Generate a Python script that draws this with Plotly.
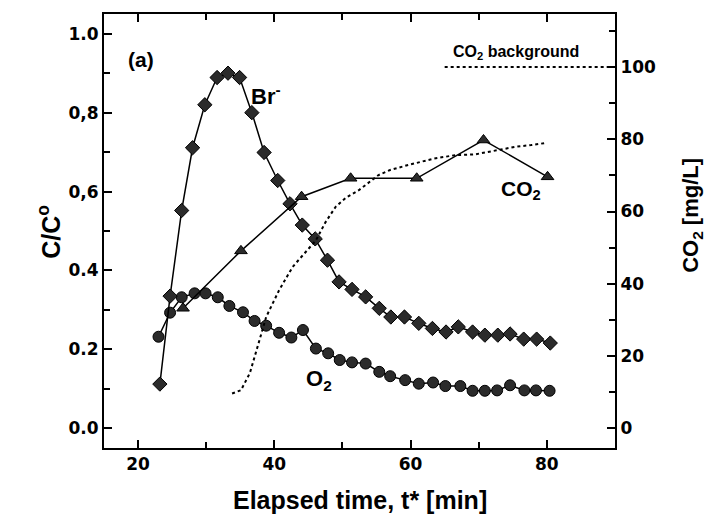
import plotly.graph_objects as go

# Bromide tracer breakthrough (C/C0)
br_t = [23.2, 24.7, 26.4, 28.0, 29.8, 31.6, 33.2, 34.9, 36.7, 38.5, 40.5, 42.3,
        44.1, 46.0, 47.8, 49.5, 51.4, 53.4, 55.4, 57.1, 59.1, 61.2, 63.2, 65.2,
        67.0, 69.1, 70.9, 72.8, 74.6, 76.6, 78.5, 80.5]
br_c = [0.112, 0.335, 0.552, 0.711, 0.820, 0.889, 0.900, 0.889, 0.800, 0.699,
        0.628, 0.569, 0.515, 0.480, 0.426, 0.371, 0.352, 0.333, 0.304, 0.282,
        0.282, 0.266, 0.253, 0.244, 0.257, 0.244, 0.236, 0.236, 0.239, 0.226,
        0.226, 0.216]

# Dissolved oxygen (C/C0)
o2_t = [23.0, 24.7, 26.4, 28.3, 29.9, 31.7, 33.4, 35.4, 37.1, 38.8, 40.7, 42.5,
        44.2, 46.1, 47.9, 49.6, 51.4, 53.4, 55.4, 57.0, 59.2, 61.2, 63.3, 65.1,
        67.3, 69.1, 70.9, 72.7, 74.6, 76.7, 78.4, 80.4]
o2_c = [0.232, 0.293, 0.332, 0.342, 0.342, 0.332, 0.310, 0.294, 0.272, 0.260,
        0.242, 0.230, 0.249, 0.202, 0.190, 0.173, 0.167, 0.164, 0.143, 0.132,
        0.122, 0.113, 0.116, 0.107, 0.107, 0.095, 0.095, 0.096, 0.109, 0.096,
        0.096, 0.095]

# CO2 samples [mg/L]
co2_t = [26.6, 35.1, 44.0, 51.2, 60.9, 70.7, 80.1]
co2_v = [33.2, 49.1, 64.1, 69.2, 69.2, 79.8, 69.6]

# Continuous CO2 record [mg/L]
co2s_t = [33.8, 35.1, 36.4, 37.3, 38.1, 38.8, 39.8, 40.7, 42.7, 44.6, 46.1, 47.5,
          49.0, 50.5, 52.4, 55.3, 57.0, 59.7, 63.3, 66.5, 69.4, 72.8, 75.3, 77.7,
          79.9]
co2s_v = [9.6, 10.5, 15.2, 20.7, 26.2, 30.8, 34.5, 38.2, 44.7, 48.8, 52.0, 57.0,
          61.3, 63.8, 65.9, 70.1, 71.5, 72.9, 74.6, 75.6, 75.8, 77.0, 77.9, 78.4,
          79.0]

# CO2 background level [mg/L]
bg_t = [65.0, 90.0]
bg_v = [100.0, 100.0]

x_ticks = [20, 40, 60, 80]
y_ticks = [0.0, 0.2, 0.4, 0.6, 0.8, 1.0]
y_ticklabels = ["0.0", "0.2", "0.4", "0,6", "0,8", "1.0"]
y2_ticks = [0, 20, 40, 60, 80, 100]

TICKFONT = dict(family="DejaVu Sans", size=17, color="black", weight="bold")
LABFONT = "Liberation Sans, Arial, sans-serif"
MFILL = "#2b2b2b"

fig = go.Figure()

fig.add_trace(go.Scatter(
    x=co2s_t, y=co2s_v, yaxis="y2", mode="lines",
    line=dict(color="black", width=2, dash="dot"), showlegend=False))
fig.add_trace(go.Scatter(
    x=bg_t, y=bg_v, yaxis="y2", mode="lines",
    line=dict(color="black", width=2, dash="dot"), showlegend=False))
fig.add_trace(go.Scatter(
    x=co2_t, y=co2_v, yaxis="y2", mode="lines+markers",
    line=dict(color="black", width=1.5),
    marker=dict(symbol="triangle-up", size=11, color=MFILL,
                line=dict(color="black", width=1)),
    showlegend=False))
fig.add_trace(go.Scatter(
    x=o2_t, y=o2_c, mode="lines+markers",
    line=dict(color="black", width=1.5),
    marker=dict(symbol="circle", size=11, color=MFILL,
                line=dict(color="black", width=1)),
    showlegend=False))
fig.add_trace(go.Scatter(
    x=br_t, y=br_c, mode="lines+markers",
    line=dict(color="black", width=1.5),
    marker=dict(symbol="diamond", size=11, color=MFILL,
                line=dict(color="black", width=1)),
    showlegend=False))

axis_common = dict(showline=True, linecolor="black", linewidth=2,
                   ticks="inside", tickcolor="black", tickwidth=2, ticklen=8,
                   showgrid=False, zeroline=False, tickfont=TICKFONT)

fig.update_layout(
    width=723, height=520,
    margin=dict(l=104, r=108, t=14, b=72),
    paper_bgcolor="white", plot_bgcolor="white",
    xaxis=dict(range=[15, 90], tickvals=x_ticks, mirror="ticks",
               minor=dict(tickvals=[30, 50, 70], ticks="inside", ticklen=6,
                          tickwidth=2, tickcolor="black"),
               **axis_common),
    yaxis=dict(range=[-0.05, 1.05], tickvals=y_ticks, ticktext=y_ticklabels,
               minor=dict(tickvals=[0.1, 0.3, 0.5, 0.7, 0.9], ticks="inside",
                          ticklen=6, tickwidth=2, tickcolor="black"),
               **axis_common),
    yaxis2=dict(range=[-5.5, 114.7], tickvals=y2_ticks, overlaying="y",
                side="right",
                minor=dict(tickvals=[10, 30, 50, 70, 90, 110], ticks="inside",
                           ticklen=6, tickwidth=2, tickcolor="black"),
                **axis_common),
)

def note(text, x, y, size, **kw):
    fig.add_annotation(text=text, x=x, y=y, showarrow=False,
                       font=dict(family=LABFONT, size=size, color="black",
                                 weight="bold"), **kw)

# Axis titles
note("Elapsed time, t* [min]", 0.5, -0.12, 25, xref="paper", yref="paper",
     yanchor="middle")
note("C/C<sup>o</sup>", -0.143, 0.498, 25, xref="paper", yref="paper",
     textangle=-90)
note("CO<sub>2</sub> [mg/L]", 1.182, 0.535, 22, xref="paper", yref="paper",
     textangle=-90)

# In-plot labels
note("(a)", 20.4, 0.934, 21)
note("Br<sup>-</sup>", 38.8, 0.845, 22)
note("CO<sub>2</sub>", 76.2, 0.604, 21)
note("O<sub>2</sub>", 46.6, 0.122, 22)
note("CO<sub>2</sub> background", 75.5, 0.952, 16)

fig.write_html("out.html")
